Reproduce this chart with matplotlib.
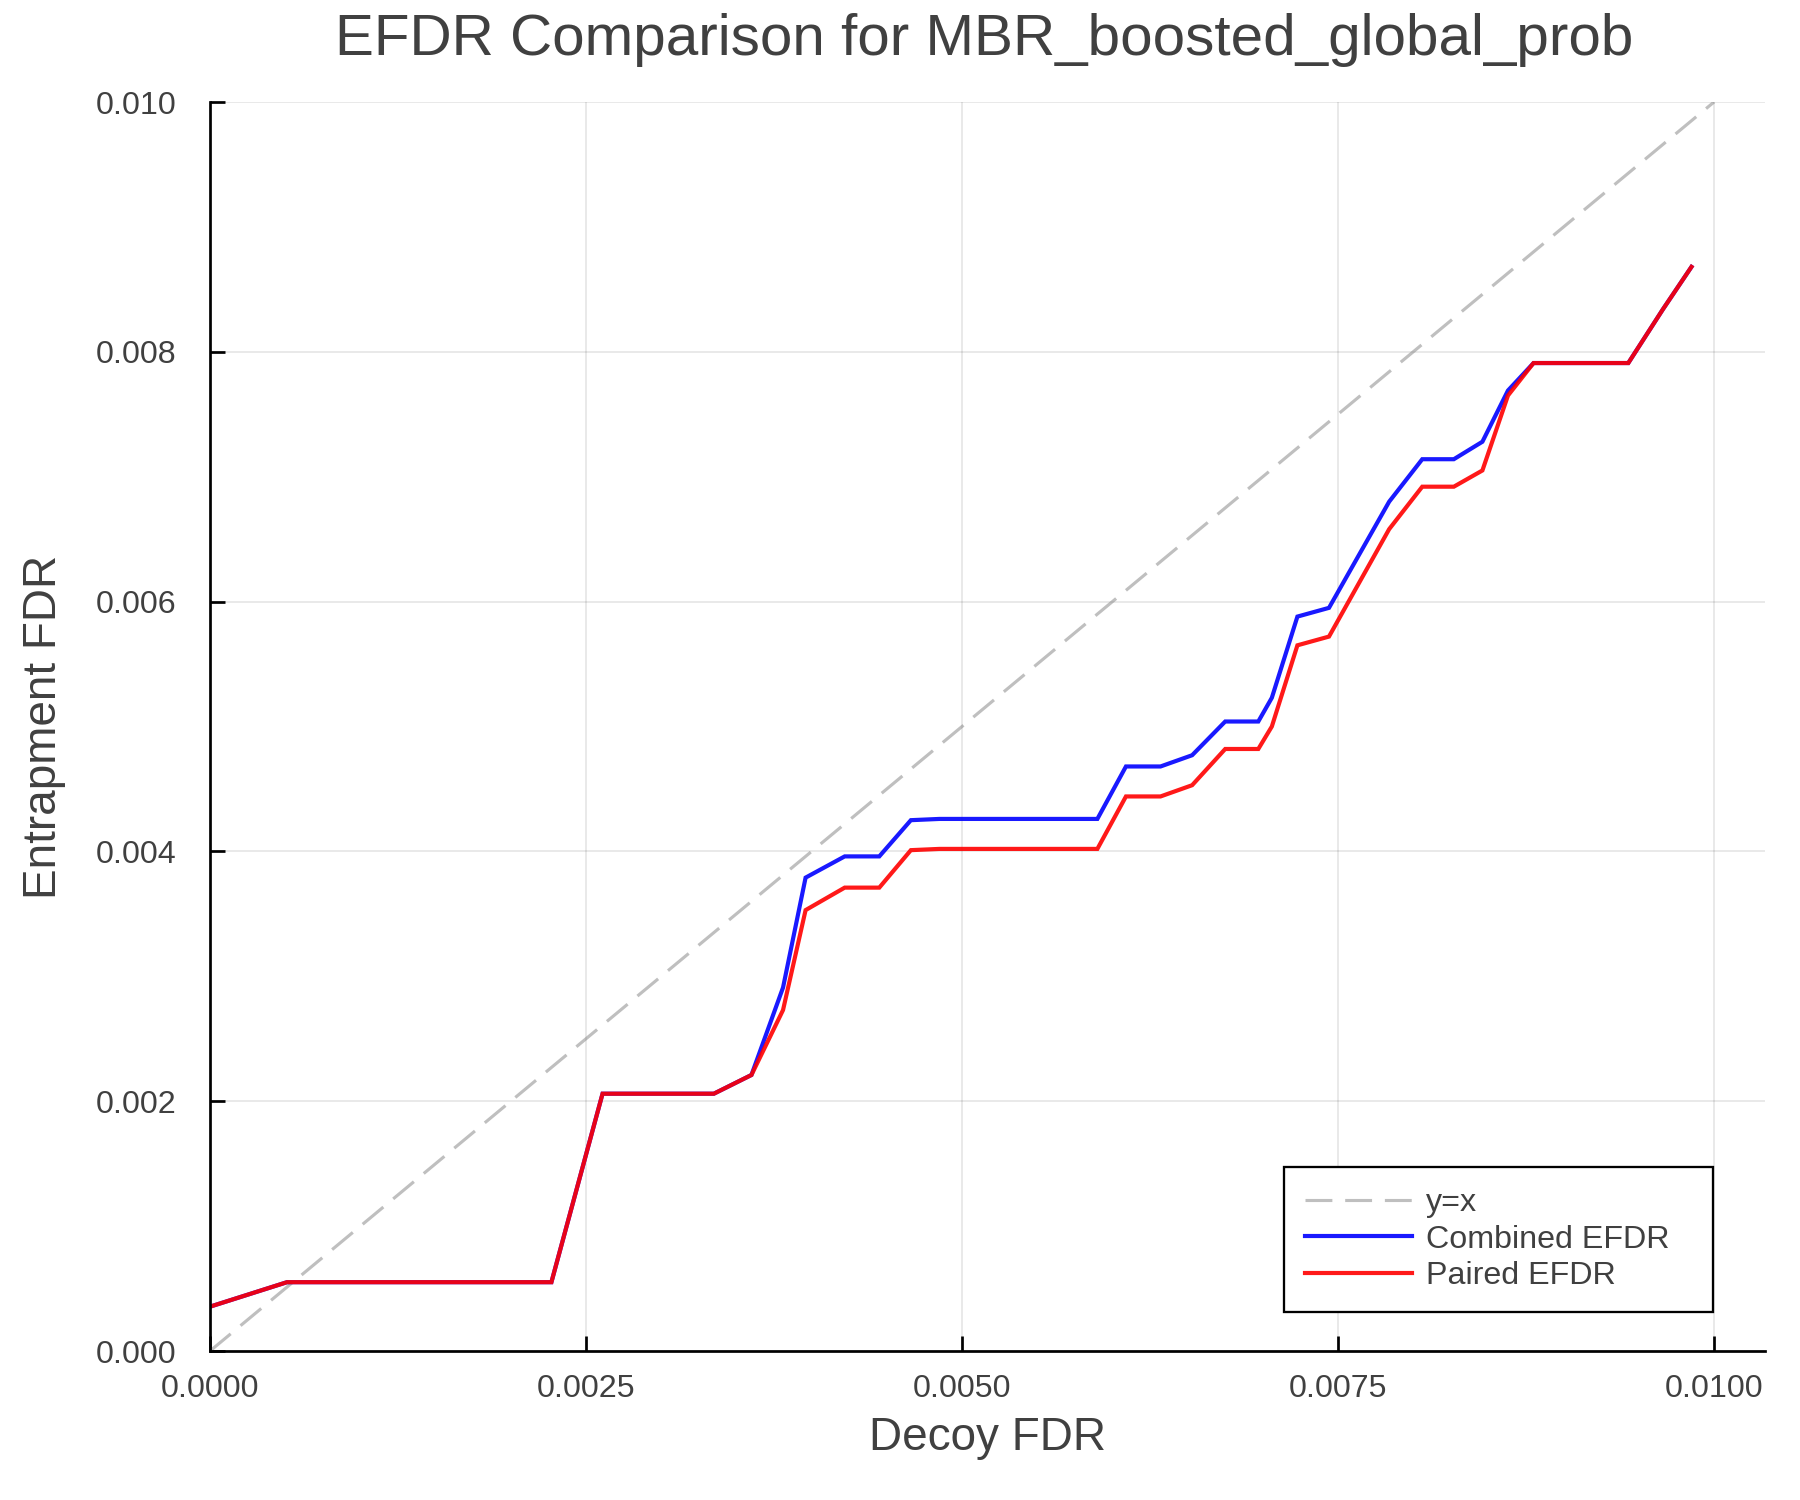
import matplotlib
matplotlib.use("Agg")
import matplotlib.pyplot as plt

plt.rcParams['font.family'] = ['Liberation Sans', 'DejaVu Sans']

# ---- data ----
decoy_fdr = [0.0, 0.000512, 0.00227, 0.00261, 0.00335, 0.00360, 0.00381, 0.00396,
             0.00422, 0.00445, 0.00466, 0.00485, 0.00590, 0.00609, 0.00632, 0.00653,
             0.00675, 0.00697, 0.00706, 0.00723, 0.00744, 0.00784, 0.00806, 0.00827,
             0.00846, 0.00863, 0.00880, 0.00943, 0.00966, 0.00985]
combined_efdr = [0.000355, 0.000551, 0.000551, 0.00206, 0.00206, 0.00221, 0.00291, 0.00379,
                 0.00396, 0.00396, 0.00425, 0.00426, 0.00426, 0.00468, 0.00468, 0.00477,
                 0.00504, 0.00504, 0.00523, 0.00588, 0.00595, 0.00680, 0.00714, 0.00714,
                 0.00728, 0.00769, 0.00791, 0.00791, 0.00834, 0.00868]
paired_efdr = [0.000355, 0.000551, 0.000551, 0.00206, 0.00206, 0.00221, 0.00273, 0.00353,
               0.00371, 0.00371, 0.00401, 0.00402, 0.00402, 0.00444, 0.00444, 0.00453,
               0.00482, 0.00482, 0.00500, 0.00565, 0.00572, 0.00658, 0.00692, 0.00692,
               0.00705, 0.00765, 0.00791, 0.00791, 0.00834, 0.00868]
diag = [0.0, 0.01]

x_ticks = [0.0, 0.0025, 0.005, 0.0075, 0.01]
x_tick_labels = ["0.0000", "0.0025", "0.0050", "0.0075", "0.0100"]
y_ticks = [0.0, 0.002, 0.004, 0.006, 0.008, 0.010]
y_tick_labels = ["0.000", "0.002", "0.004", "0.006", "0.008", "0.010"]

title = "EFDR Comparison for MBR_boosted_global_prob"
xlabel = "Decoy FDR"
ylabel = "Entrapment FDR"

TXT = "#404040"

fig = plt.figure(figsize=(12, 10), dpi=150)
ax = fig.add_axes([0.11667, 0.09933, 0.98056 - 0.11667, 0.932 - 0.09933])

ax.plot(diag, diag, color="gray", alpha=0.5, lw=1.5, linestyle=(0, (8.6, 4.1)), label="y=x")
ax.plot(decoy_fdr, combined_efdr, color="blue", alpha=0.9, lw=2.0, label="Combined EFDR",
        solid_joinstyle="miter")
ax.plot(decoy_fdr, paired_efdr, color="red", alpha=0.9, lw=2.0, label="Paired EFDR",
        solid_joinstyle="miter")

ax.set_xlim(0, 0.010339)
ax.set_ylim(0, 0.010)

ax.set_xticks(x_ticks)
ax.set_xticklabels(x_tick_labels)
ax.set_yticks(y_ticks)
ax.set_yticklabels(y_tick_labels)

ax.grid(True, color="black", alpha=0.1, lw=0.8)
ax.set_axisbelow(True)

for s in ["top", "right"]:
    ax.spines[s].set_visible(False)
for s in ["left", "bottom"]:
    ax.spines[s].set_linewidth(1.3)
    ax.spines[s].set_color("black")

ax.tick_params(axis="x", direction="in", length=7, width=1.3, pad=11,
               labelsize=15.5, labelcolor=TXT, color="black")
ax.tick_params(axis="y", direction="in", length=7, width=1.3, pad=16,
               labelsize=15.5, labelcolor=TXT, color="black")

ax.set_xlabel(xlabel, fontsize=22, color=TXT)
ax.xaxis.set_label_coords(0.5, -0.052)
ax.set_ylabel(ylabel, fontsize=22, color=TXT)
ax.yaxis.set_label_coords(-0.0926, 0.5)

fig.text(0.5467, 1 - 55 / 1500, title, fontsize=28, color=TXT,
         ha="center", va="baseline")

leg = ax.legend(loc="lower left", bbox_to_anchor=(0.6907, 0.0312, 0.2759, 0.12),
                mode="expand", borderaxespad=0, fontsize=15.5, frameon=True,
                fancybox=False, edgecolor="black", framealpha=1,
                handlelength=3.3, handletextpad=0.46, labelspacing=0.2,
                borderpad=0.65)
leg.get_frame().set_linewidth(1.1)
for t in leg.get_texts():
    t.set_color(TXT)

fig.savefig("out.png", dpi=150, facecolor="white")
